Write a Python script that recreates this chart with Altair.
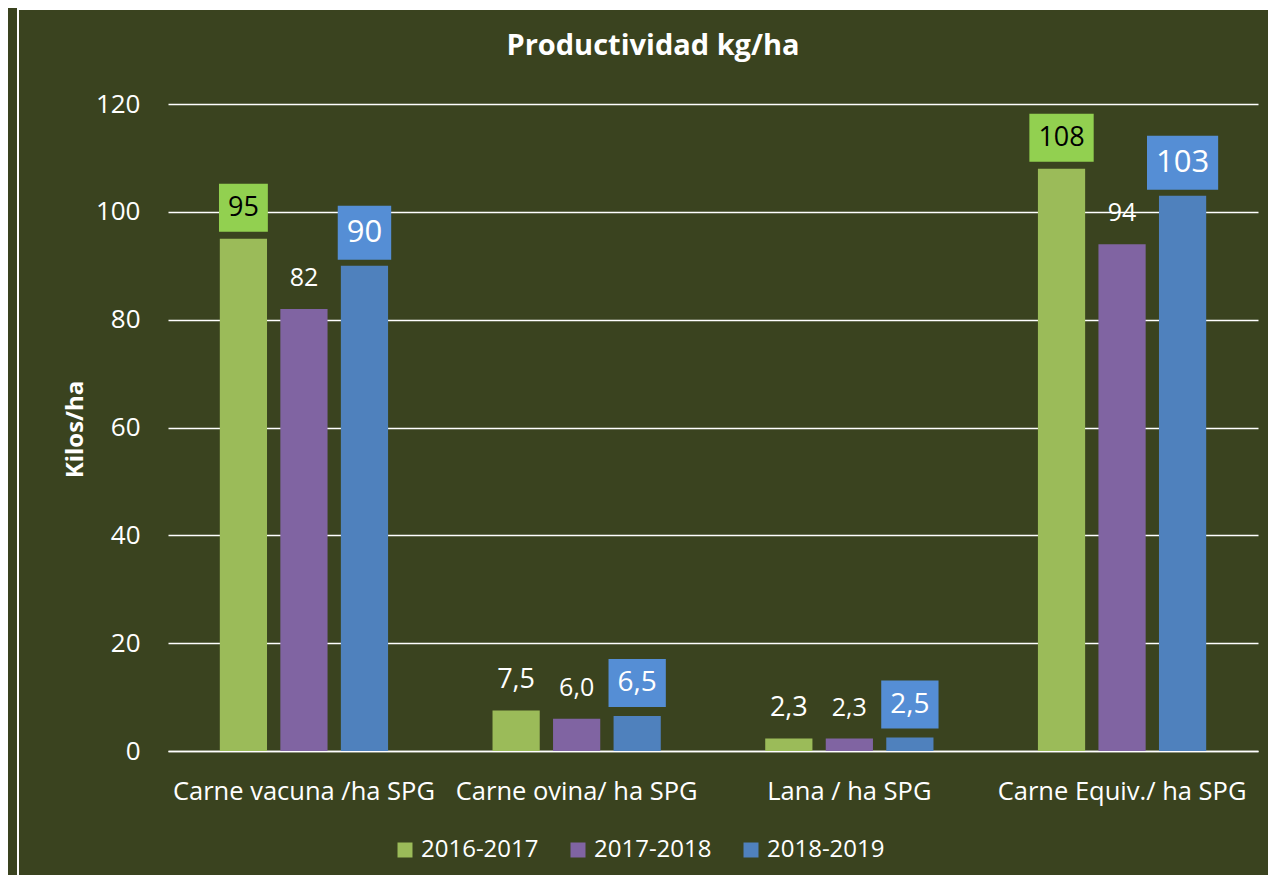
import altair as alt
import pandas as pd

categories = ["Carne vacuna /ha SPG", "Carne ovina/ ha SPG", "Lana / ha SPG", "Carne Equiv./ ha SPG"]
series = ["2016-2017", "2017-2018", "2018-2019"]
v_2016_2017 = [95, 7.5, 2.3, 108]
v_2017_2018 = [82, 6.0, 2.3, 94]
v_2018_2019 = [90, 6.5, 2.5, 103]
bar_colors = ["#9BBB59", "#8064A2", "#4F81BD"]
y_ticks = [0, 20, 40, 60, 80, 100, 120]

FONT = "Open Sans"
BG = "#3a431f"

def fmt(v):
    return f"{v:.0f}" if v >= 10 else f"{v:.1f}".replace(".", ",")

rows = []
for s, vals in zip(series, [v_2016_2017, v_2017_2018, v_2018_2019]):
    for c, v in zip(categories, vals):
        lab = fmt(v)
        if s == series[0]:
            box = v >= 10
            fs, tcol, bcol, bh = 27, ("black" if box else "white"), "#92D050", 48
        elif s == series[1]:
            fs, tcol, box, bcol, bh = 25, "white", False, "#000000", 48
        else:
            fs = 31 if v >= 10 else 28
            tcol, box, bcol = "white", True, "#558ED5"
            bh = 54 if v >= 10 else 48
        nd = sum(ch.isdigit() for ch in lab)
        nc = lab.count(",")
        bw = 0.572 * fs * nd + 0.26 * fs * nc + 18
        a = bw / bh
        path = f"M{-a:.3f},-1L{a:.3f},-1L{a:.3f},1L{-a:.3f},1Z"
        rows.append(dict(cat=c, series=s, value=v, label=lab, fs=fs, tcol=tcol,
                         box=int(box), bcol=bcol, bsize=bh * bh, path=path))
df = pd.DataFrame(rows)

x_enc = alt.X("cat:N", sort=categories,
              scale=alt.Scale(paddingInner=0.383, paddingOuter=0.19),
              axis=alt.Axis(title=None, labelAngle=0, ticks=False, tickSize=0,
                            domain=True, domainColor="white", domainWidth=1.5,
                            labelPadding=28, labelFontSize=25.5, labelFont=FONT,
                            labelColor="white", labelLimit=400, grid=False))
xo_enc = alt.XOffset("series:N", sort=series,
                     scale=alt.Scale(domain=series, paddingInner=0.22, paddingOuter=0))
y_enc = alt.Y("value:Q", scale=alt.Scale(domain=[0, 120], nice=False, zero=True),
              axis=alt.Axis(values=y_ticks, grid=True, gridColor="white", gridWidth=1.5,
                            domain=False, ticks=False, tickSize=0, labelPadding=28,
                            labelFontSize=26, labelFont=FONT, labelColor="white",
                            title="Kilos/ha", titleFont=FONT, titleFontSize=24,
                            titleFontWeight="bold", titleColor="white", titleAngle=270,
                            titleX=-86, titleY=325, titleAlign="center",
                            titleBaseline="alphabetic"))

base = alt.Chart(df)

bars = base.mark_bar().encode(
    x=x_enc, xOffset=xo_enc, y=y_enc,
    color=alt.Color("series:N", sort=series,
                    scale=alt.Scale(domain=series, range=bar_colors),
                    legend=alt.Legend(title=None, orient="none", legendX=225, legendY=734,
                                      direction="horizontal", symbolType="square",
                                      symbolSize=225, symbolStrokeWidth=0,
                                      labelFontSize=24, labelFont=FONT, labelColor="white",
                                      labelOffset=4, columnPadding=27, labelLimit=300,
                                      padding=0)),
)

layers = [bars]
offsets = {series[0]: 31, series[1]: 31, series[2]: 33}
for s in series:
    off = offsets[s]
    boxes = base.transform_filter(
        (alt.datum.series == s) & (alt.datum.box == 1)
    ).mark_point(filled=True, opacity=1, strokeWidth=0, yOffset=-off).encode(
        x=x_enc, xOffset=xo_enc, y=y_enc,
        shape=alt.Shape("path:N", scale=None),
        size=alt.Size("bsize:Q", scale=None),
        color=alt.Color("bcol:N", scale=None),
    )
    texts = base.transform_filter(alt.datum.series == s).mark_text(
        baseline="middle", align="center", font=FONT, dy=-off
    ).encode(
        x=x_enc, xOffset=xo_enc, y=y_enc,
        text="label:N",
        size=alt.Size("fs:Q", scale=None),
        color=alt.Color("tcol:N", scale=None),
    )
    layers += [boxes, texts]

border = alt.Chart(pd.DataFrame({"k": [0]})).mark_rect(
    fillOpacity=0, stroke="white", strokeWidth=2
).encode(x=alt.value(-150), x2=alt.value(1200), y=alt.value(-95), y2=alt.value(900))

chart = alt.layer(border, *layers).properties(
    width=1090, height=647,
    title=alt.TitleParams("Productividad kg/ha", anchor="middle", frame="group",
                          dx=-60, offset=0, dy=53, font=FONT, fontSize=29,
                          fontWeight="bold", color="white"),
    padding={"left": 160, "top": 96, "right": 10, "bottom": 124},
    autosize=alt.AutoSizeParams(type="none"),
    background=BG,
).configure_view(strokeWidth=0)

chart.save("out.html", embed_options={"renderer": "svg", "actions": False})
